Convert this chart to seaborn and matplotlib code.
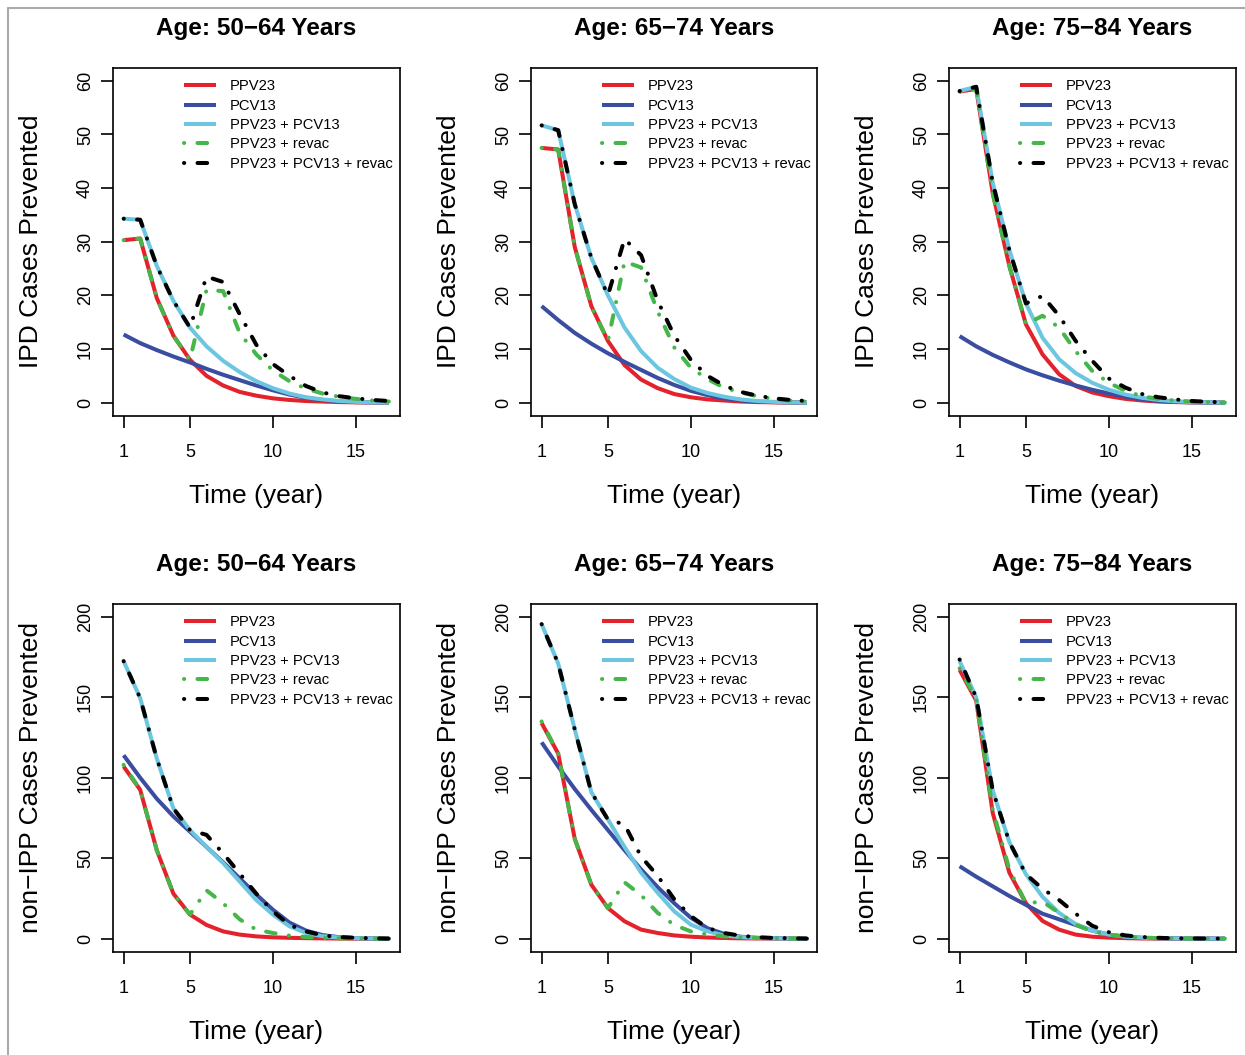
import matplotlib
matplotlib.use("Agg")
import numpy as np
import pandas as pd
import matplotlib.pyplot as plt
import seaborn as sns
from matplotlib.lines import Line2D

# Time axis (years after vaccination)
years = list(range(1, 18))

series_labels = ["PPV23", "PCV13", "PPV23 + PCV13", "PPV23 + revac", "PPV23 + PCV13 + revac"]
series_colors = ["#E4222B", "#3A4DA0", "#6CC6DF", "#45B649", "#000000"]

age_groups = ["50\u221264", "65\u221274", "75\u221284"]
outcome_labels = ["IPD Cases Prevented", "non\u2212IPP Cases Prevented"]

# IPD cases prevented, age 50-64
ipd_50_ppv23 = [30.3, 30.6, 19.5, 12.5, 8.0, 5.0, 3.2, 2.0, 1.3, 0.8, 0.5, 0.3, 0.2, 0.1, 0.05, 0.02, 0.0]
ipd_50_pcv13 = [12.7, 11.1, 9.8, 8.6, 7.5, 6.3, 5.2, 4.2, 3.2, 2.3, 1.5, 0.9, 0.5, 0.25, 0.1, 0.05, 0.0]
ipd_50_both = [34.3, 34.1, 25.5, 19.0, 14.0, 10.5, 7.8, 5.7, 4.0, 2.7, 1.7, 1.0, 0.6, 0.3, 0.15, 0.05, 0.0]
ipd_50_ppv23_rev = [30.3, 30.6, 19.5, 12.5, 8.0, 21.0, 20.8, 13.0, 9.0, 6.0, 4.0, 2.6, 1.7, 1.1, 0.7, 0.4, 0.2]
ipd_50_both_rev = [34.3, 34.1, 25.5, 19.0, 14.0, 23.5, 22.5, 16.5, 10.8, 7.2, 5.0, 3.1, 1.9, 1.2, 0.8, 0.5, 0.3]

# IPD cases prevented, age 65-74
ipd_65_ppv23 = [47.5, 47.2, 29.0, 18.0, 11.5, 7.0, 4.3, 2.7, 1.6, 1.0, 0.6, 0.4, 0.2, 0.1, 0.05, 0.02, 0.0]
ipd_65_pcv13 = [18.0, 15.4, 13.0, 11.0, 9.2, 7.6, 6.1, 4.6, 3.3, 2.2, 1.4, 0.8, 0.4, 0.2, 0.1, 0.03, 0.0]
ipd_65_both = [51.7, 50.8, 37.0, 27.0, 20.0, 14.0, 9.6, 6.5, 4.4, 2.8, 1.8, 1.1, 0.6, 0.3, 0.15, 0.05, 0.0]
ipd_65_ppv23_rev = [47.5, 47.2, 29.0, 18.0, 11.5, 26.3, 25.2, 17.0, 10.3, 6.5, 4.4, 2.8, 1.9, 1.2, 0.7, 0.4, 0.2]
ipd_65_both_rev = [51.7, 50.8, 37.0, 27.0, 20.0, 30.5, 27.5, 19.0, 12.5, 8.0, 5.0, 3.2, 2.0, 1.3, 0.8, 0.5, 0.3]

# IPD cases prevented, age 75-84
ipd_75_ppv23 = [58.0, 58.5, 39.0, 25.5, 14.6, 9.0, 5.3, 3.1, 1.9, 1.2, 0.7, 0.4, 0.2, 0.1, 0.05, 0.02, 0.0]
ipd_75_pcv13 = [12.4, 10.5, 8.9, 7.5, 6.2, 5.1, 4.1, 3.2, 2.4, 1.7, 1.1, 0.6, 0.3, 0.15, 0.05, 0.02, 0.0]
ipd_75_both = [58.1, 58.9, 41.0, 28.5, 18.5, 12.1, 8.1, 5.5, 3.7, 2.4, 1.5, 0.9, 0.5, 0.25, 0.1, 0.05, 0.0]
ipd_75_ppv23_rev = [58.0, 58.5, 39.0, 25.5, 14.6, 16.2, 14.0, 9.6, 5.9, 3.7, 2.2, 1.2, 0.7, 0.4, 0.2, 0.1, 0.0]
ipd_75_both_rev = [58.1, 58.9, 41.0, 28.5, 18.5, 19.9, 16.2, 11.5, 7.8, 4.5, 2.8, 1.6, 1.0, 0.6, 0.3, 0.15, 0.05]

# non-IPP cases prevented, age 50-64
nip_50_ppv23 = [107, 92.5, 55, 28, 15, 8.5, 4.5, 2.5, 1.4, 0.8, 0.5, 0.3, 0.15, 0.05, 0.0, 0.0, 0.0]
nip_50_pcv13 = [114, 100, 87, 76, 66.5, 57, 47.5, 37.5, 27.5, 18, 10, 5, 2.2, 0.9, 0.3, 0.1, 0.0]
nip_50_both = [172.5, 149.5, 112, 81, 67.5, 57, 47, 35.5, 24, 15, 7.7, 3.5, 1.5, 0.7, 0.3, 0.1, 0.0]
nip_50_ppv23_rev = [108, 92.5, 55, 28, 15, 30, 22, 12, 5.6, 3.5, 1.9, 1.0, 0.5, 0.2, 0.1, 0.05, 0.0]
nip_50_both_rev = [172.5, 149.5, 112, 81, 67.5, 64.5, 53, 40.5, 28, 17, 8.5, 4.5, 2, 1, 0.5, 0.2, 0.0]

# non-IPP cases prevented, age 65-74
nip_65_ppv23 = [134, 115, 62, 33.5, 19, 10.8, 5.6, 3.5, 2.0, 1.2, 0.7, 0.4, 0.2, 0.1, 0.05, 0.0, 0.0]
nip_65_pcv13 = [122, 107, 93, 80, 67.5, 55, 43, 32, 22, 13, 6.5, 3, 1.2, 0.5, 0.2, 0.05, 0.0]
nip_65_both = [195.5, 171, 130, 91, 74, 57, 41, 28.5, 17, 8.7, 4.6, 1.9, 1.0, 0.4, 0.2, 0.0, 0.0]
nip_65_ppv23_rev = [135, 115, 62, 33.5, 19, 35, 27, 16, 8.5, 4.5, 2.5, 1.4, 0.8, 0.4, 0.2, 0.1, 0.0]
nip_65_both_rev = [195.5, 171, 130, 91, 74, 71, 51, 39, 24.5, 14, 6.6, 3.5, 1.8, 0.9, 0.4, 0.2, 0.0]

# non-IPP cases prevented, age 75-84
nip_75_ppv23 = [167, 148, 78, 41, 22, 11, 5.6, 2.5, 1.2, 0.6, 0.3, 0.1, 0.05, 0.0, 0.0, 0.0, 0.0]
nip_75_pcv13 = [45, 38.5, 32.5, 26.5, 21, 15.5, 12, 8.5, 5, 2.5, 1.2, 0.5, 0.2, 0.1, 0.05, 0.0, 0.0]
nip_75_both = [172.5, 150, 92, 60, 40, 26, 16, 9, 5, 2.5, 1.2, 0.6, 0.3, 0.1, 0.05, 0.0, 0.0]
nip_75_ppv23_rev = [168, 149, 80, 43, 22, 23, 16, 8.7, 4.5, 2.5, 1.3, 0.6, 0.3, 0.1, 0.05, 0.0, 0.0]
nip_75_both_rev = [173.5, 150, 92, 60, 40, 31, 24, 15.5, 8, 4, 2, 1, 0.5, 0.2, 0.1, 0.05, 0.0]

panels = [
    [
        [ipd_50_ppv23, ipd_50_pcv13, ipd_50_both, ipd_50_ppv23_rev, ipd_50_both_rev],
        [ipd_65_ppv23, ipd_65_pcv13, ipd_65_both, ipd_65_ppv23_rev, ipd_65_both_rev],
        [ipd_75_ppv23, ipd_75_pcv13, ipd_75_both, ipd_75_ppv23_rev, ipd_75_both_rev],
    ],
    [
        [nip_50_ppv23, nip_50_pcv13, nip_50_both, nip_50_ppv23_rev, nip_50_both_rev],
        [nip_65_ppv23, nip_65_pcv13, nip_65_both, nip_65_ppv23_rev, nip_65_both_rev],
        [nip_75_ppv23, nip_75_pcv13, nip_75_both, nip_75_ppv23_rev, nip_75_both_rev],
    ],
]

sns.set_theme(style="ticks")
plt.rcParams["font.family"] = ["Liberation Sans", "DejaVu Sans"]
plt.rcParams["text.color"] = "black"
plt.rcParams["axes.labelcolor"] = "black"

W, H = 1245, 1055
fig = plt.figure(figsize=(W / 100, H / 100), dpi=100)
fig.patch.set_facecolor("white")

# R-like dot-dash line
dotdash = (0, (0.05, 3.3, 2.4, 3.3))
series_styles = ["-", "-", "-", dotdash, dotdash]

col_left = [113, 531, 949]
row_top = [68, 604]
aw, ah = 286.5, 347.5
ymax = [60, 200]
ystep = [10, 50]

for r in range(2):
    for c in range(3):
        ax = fig.add_axes([col_left[c] / W, 1 - (row_top[r] + ah) / H, aw / W, ah / H])
        df = pd.DataFrame({
            "Time": years * 5,
            "Cases": np.concatenate(panels[r][c]),
            "Series": np.repeat(series_labels, len(years)),
        })
        for lab, col, ls in zip(series_labels, series_colors, series_styles):
            sub = df[df["Series"] == lab]
            sns.lineplot(data=sub, x="Time", y="Cases", ax=ax, color=col, linestyle=ls,
                         lw=2.9, label=lab, legend=False, dash_capstyle="round",
                         solid_capstyle="butt")

        pad = ymax[r] * 0.04
        ax.set_xlim(1 - 0.64, 17 + 0.64)
        ax.set_ylim(-pad, ymax[r] + pad)
        ax.set_xticks([1, 5, 10, 15])
        ax.set_yticks(np.arange(0, ymax[r] + 1, ystep[r]))
        ax.tick_params(direction="out", length=8.6, width=1.2, color="black",
                       labelsize=13, labelcolor="black")
        ax.tick_params(axis="x", pad=12)
        ax.tick_params(axis="y", pad=5, labelrotation=90)
        for t in ax.get_yticklabels():
            t.set_va("center")
        for sp in ax.spines.values():
            sp.set_color("black")
            sp.set_linewidth(1.2)

        ax.set_title(f"Age: {age_groups[c]} Years", fontsize=17.5, fontweight="bold",
                     pad=24, color="black")
        ax.set_xlabel("Time (year)", fontsize=19, va="center", color="black")
        ax.xaxis.set_label_coords(0.5, -(495 - 415) / ah)
        ax.set_ylabel(outcome_labels[r], fontsize=19, va="center", color="black")
        ax.yaxis.set_label_coords(-(113 - 31) / aw, 0.5)

        leg = ax.legend(loc="upper left", bbox_to_anchor=(71 / aw, 1 - 11.5 / ah), frameon=False,
                        fontsize=10.6, handlelength=2.2, handletextpad=0.9, labelspacing=0.36,
                        borderpad=0, borderaxespad=0)
        for t in leg.get_texts():
            t.set_color("black")

# light grey frame on the top and left edges
fig.add_artist(Line2D([7.5 / W, 1], [1 - 7.5 / H, 1 - 7.5 / H], transform=fig.transFigure,
                      color="#AAAAAA", lw=1.5))
fig.add_artist(Line2D([7.5 / W, 7.5 / W], [0, 1 - 7.5 / H], transform=fig.transFigure,
                      color="#AAAAAA", lw=1.5))

fig.savefig("out.png", dpi=100)
